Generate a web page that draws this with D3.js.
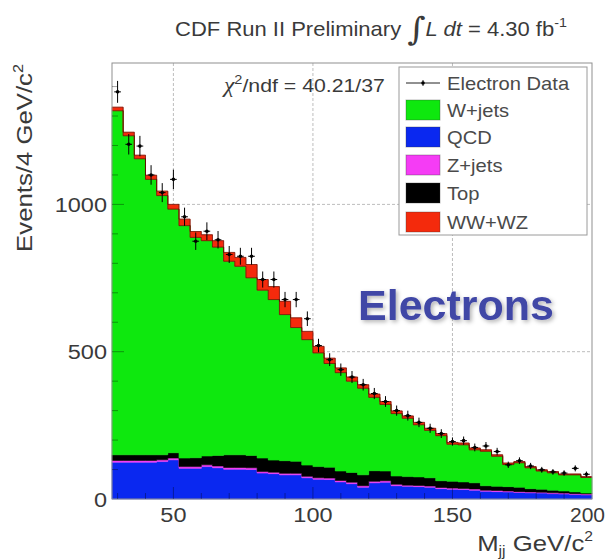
<!DOCTYPE html>
<html>
<head>
<meta charset="utf-8">
<script src="https://cdn.jsdelivr.net/npm/d3@7"></script>
<style>
  body { margin: 0; background: #fff; }
  svg { display: block; font-family: "Liberation Sans", Arial, Helvetica, sans-serif; }
</style>
</head>
<body>
<svg id="chart" width="606" height="559"></svg>
<script>
// Dijet invariant mass, electron channel: 43 bins of 4 GeV/c^2 from 28 to 200
const binLow = 28;
const binWidth = 4;
const massTicks = [50, 100, 150, 200];
const eventTicks = [0, 500, 1000];

// Stacked expectations per bin (bottom to top)
const qcd     = [125,125,125,125,127,133,104,104,110,106,101,101,100,88,86,82,82,72,67,66,58,52,40,55,57,45,43,42,40,35,33,32,30,26,25,24,22,21,20,18,17,15,14];
const zJets   = [6,6,6,6,6,6,6,6,6,6,6,6,6,5,5,5,5,5,5,5,5,5,5,5,5,5,4,4,4,4,4,4,4,4,4,3,3,3,3,3,3,3,3];
const topPair = [19,19,19,19,17,18,29,30,30,36,43,43,42,46,41,43,41,38,38,37,32,33,37,36,33,28,29,29,28,23,23,22,21,15,14,15,15,11,10,9,7,6,3];
const wJets   = [1168,1083,1005,935,880,827,789,748,731,707,657,640,603,570,545,496,454,426,386,352,334,310,294,249,226,212,198,177,161,153,126,126,112,117,102,75,83,71,62,59,55,58,53];
const diboson = [12,12,12,14,15,16,22,20,20,22,30,30,45,36,44,45,33,28,22,18,16,14,12,11,10,9,8,8,7,7,6,6,6,5,5,5,4,4,4,4,3,3,3];

// Observed electron events per bin
const electronData = [1382,1204,1198,1100,1040,1085,958,875,909,880,830,824,824,745,745,677,677,612,521,473,439,414,388,358,331,300,283,260,240,222,195,198,175,180,161,116,130,112,99,92,88,104,84];

const legendLabels = ["Electron Data", "W+jets", "QCD", "Z+jets", "Top", "WW+WZ"];

const components = [
  { key: "qcd",     values: qcd,     color: "#0a28f0", label: "QCD" },
  { key: "zJets",   values: zJets,   color: "#f53cf5", label: "Z+jets" },
  { key: "topPair", values: topPair, color: "#000000", label: "Top" },
  { key: "wJets",   values: wJets,   color: "#0ee80e", label: "W+jets" },
  { key: "diboson", values: diboson, color: "#f42a0c", label: "WW+WZ" }
];

const svg = d3.select("#chart");
const frame = { left: 112, right: 592, top: 63, bottom: 499 };
const x = d3.scaleLinear().domain([28, 200]).range([frame.left, frame.right]);
const y = d3.scaleLinear().domain([0, 1480]).range([frame.bottom, frame.top]);
const textColor = "#3a3a3a";

// Horizontally widened text, as in the plot's lettering
function label(parent, px, py, sx, opts) {
  const t = parent.append("text")
    .attr("transform", `translate(${px},${py}) scale(${sx},1)`)
    .attr("font-size", opts.size)
    .attr("fill", opts.fill || textColor)
    .attr("text-anchor", opts.anchor || "start");
  if (opts.text !== undefined) t.text(opts.text);
  return t;
}

// Grid
const grid = svg.append("g").attr("stroke", "#bdbdbd").attr("stroke-width", 1).attr("stroke-dasharray", "3,2");
[50, 100, 150].forEach(v => grid.append("line").attr("x1", x(v)).attr("x2", x(v)).attr("y1", frame.top).attr("y2", frame.bottom));
[500, 1000].forEach(v => grid.append("line").attr("x1", frame.left).attr("x2", frame.right).attr("y1", y(v)).attr("y2", y(v)));

// Stack
const rows = electronData.map((_, i) => {
  const r = { lo: binLow + i * binWidth };
  components.forEach(c => { r[c.key] = c.values[i]; });
  return r;
});
const stacked = d3.stack().keys(components.map(c => c.key))(rows);

function withEdge(layer) {
  const pts = layer.map((d, i) => ({ lo: rows[i].lo, y0: d[0], y1: d[1] }));
  const last = pts[pts.length - 1];
  pts.push({ lo: last.lo + binWidth, y0: last.y0, y1: last.y1 });
  return pts;
}

const area = d3.area().curve(d3.curveStepAfter)
  .x(d => x(d.lo)).y0(d => y(d.y0)).y1(d => y(d.y1));

svg.append("g").selectAll("path").data(stacked).join("path")
  .attr("d", layer => area(withEdge(layer)))
  .attr("fill", (layer, i) => components[i].color)
  .attr("stroke", (layer, i) => components[i].color)
  .attr("stroke-width", 0.6);

// Outlines of the W+jets top and of the full stack
const stepLine = d3.line().curve(d3.curveStepAfter).x(d => x(d.lo)).y(d => y(d.y1));
[3, 4].forEach(k => {
  svg.append("path").attr("d", stepLine(withEdge(stacked[k])))
    .attr("fill", "none").attr("stroke", "#3a0800").attr("stroke-opacity", 0.55).attr("stroke-width", 1);
});

// Frame and inner ticks
svg.append("rect").attr("x", frame.left).attr("y", frame.top)
  .attr("width", frame.right - frame.left).attr("height", frame.bottom - frame.top)
  .attr("fill", "none").attr("stroke", "#8f8f8f").attr("stroke-width", 1);

const ticks = svg.append("g").attr("stroke", "#000").attr("stroke-opacity", 0.35);
d3.range(100, 1480, 100).forEach(v => {
  const len = v % 500 === 0 ? 12 : 6;
  ticks.append("line").attr("x1", frame.left).attr("x2", frame.left + len).attr("y1", y(v)).attr("y2", y(v));
});
d3.range(30, 200, 10).forEach(v => {
  const len = v % 50 === 0 ? 12 : 6;
  ticks.append("line").attr("x1", x(v)).attr("x2", x(v)).attr("y1", frame.bottom).attr("y2", frame.bottom - len);
});

// Data points with Poisson errors
const pts = svg.append("g").attr("stroke", "#000").attr("stroke-width", 1);
electronData.forEach((n, i) => {
  const lo = binLow + i * binWidth, mid = lo + binWidth / 2;
  const err = Math.sqrt(n);
  pts.append("line").attr("x1", x(mid)).attr("x2", x(mid)).attr("y1", y(n - err)).attr("y2", y(n + err));
  pts.append("line").attr("x1", x(lo + 0.8)).attr("x2", x(lo + binWidth - 0.8)).attr("y1", y(n)).attr("y2", y(n));
});
svg.append("g").selectAll("circle").data(electronData).join("circle")
  .attr("cx", (n, i) => x(binLow + i * binWidth + binWidth / 2))
  .attr("cy", n => y(n)).attr("r", 1.8).attr("fill", "#000");

// Axis tick labels (the last one is pulled in to stay inside the page)
eventTicks.forEach(v => label(svg, 107, y(v) + 7.5, 1.12, { size: 21, anchor: "end", text: String(v) }));
massTicks.forEach(v => {
  const atEdge = v === 200;
  label(svg, atEdge ? 605 : x(v), 522, atEdge ? 1.0 : 1.12,
        { size: 21, anchor: atEdge ? "end" : "middle", text: String(v) });
});

// Axis titles
const yTitle = svg.append("text")
  .attr("transform", "translate(32,64) rotate(-90) scale(1.17,1)")
  .attr("font-size", 22).attr("fill", textColor).attr("text-anchor", "end");
yTitle.append("tspan").text("Events/4 GeV/c");
yTitle.append("tspan").attr("font-size", 14).attr("dy", -9).text("2");

const xTitle = label(svg, 593, 551, 1.12, { size: 23, anchor: "end" });
xTitle.append("tspan").text("M");
xTitle.append("tspan").attr("font-size", 14).attr("dy", 5).text("jj");
xTitle.append("tspan").attr("dy", -5).text(" GeV/c");
xTitle.append("tspan").attr("font-size", 14).attr("dy", -10).text("2");

// Title
const title = label(svg, 371, 36, 1.1, { size: 20, anchor: "middle" });
title.append("tspan").text("CDF Run II Preliminary ");
title.append("tspan").attr("font-size", 32).attr("font-family", "DejaVu Serif").attr("dy", 4).text("\u222B");
title.append("tspan").attr("font-style", "italic").attr("dy", -4).text("L dt");
title.append("tspan").text(" = 4.30 fb");
title.append("tspan").attr("font-size", 13).attr("dy", -9).text("-1");

// Fit quality
const chi = label(svg, 224, 92, 1.12, { size: 19 });
chi.append("tspan").attr("font-style", "italic").attr("font-family", "Liberation Serif").attr("font-size", 21).text("\u03C7");
chi.append("tspan").attr("font-size", 13).attr("dy", -8).text("2");
chi.append("tspan").attr("dy", 8).text("/ndf = 40.21/37");

// Legend
const lg = svg.append("g");
lg.append("rect").attr("x", 399).attr("y", 67).attr("width", 188).attr("height", 168)
  .attr("fill", "#fff").attr("stroke", "#9a9a9a").attr("stroke-width", 1);
const rowY = [83, 110, 137, 165, 193, 222];
lg.append("line").attr("x1", 406).attr("x2", 440).attr("y1", rowY[0]).attr("y2", rowY[0]).attr("stroke", "#222").attr("stroke-width", 1);
lg.append("line").attr("x1", 423).attr("x2", 423).attr("y1", rowY[0] - 3).attr("y2", rowY[0] + 3).attr("stroke", "#222").attr("stroke-width", 1);
lg.append("circle").attr("cx", 423).attr("cy", rowY[0]).attr("r", 1.8).attr("fill", "#000");
legendLabels.forEach((name, i) => {
  if (i > 0) {
    const c = components.find(d => d.label === name);
    lg.append("rect").attr("x", 406).attr("y", rowY[i] - 10).attr("width", 34).attr("height", 20)
      .attr("fill", c.color).attr("stroke", "#333").attr("stroke-opacity", 0.35);
  }
  label(lg, 447, rowY[i] + 6.5, 1.12, { size: 18, fill: "#4a4a4a", text: name });
});

// Channel tag
const defs = svg.append("defs");
const f = defs.append("filter").attr("id", "soft").attr("x", "-10%").attr("y", "-20%").attr("width", "130%").attr("height", "150%");
f.append("feDropShadow").attr("dx", 2).attr("dy", 2).attr("stdDeviation", 2).attr("flood-color", "#000").attr("flood-opacity", 0.3);
svg.append("text").attr("x", 456).attr("y", 320).attr("text-anchor", "middle")
  .attr("font-size", 43).attr("font-weight", "bold").attr("fill", "#4047a6")
  .attr("filter", "url(#soft)").text("Electrons");
</script>
</body>
</html>
